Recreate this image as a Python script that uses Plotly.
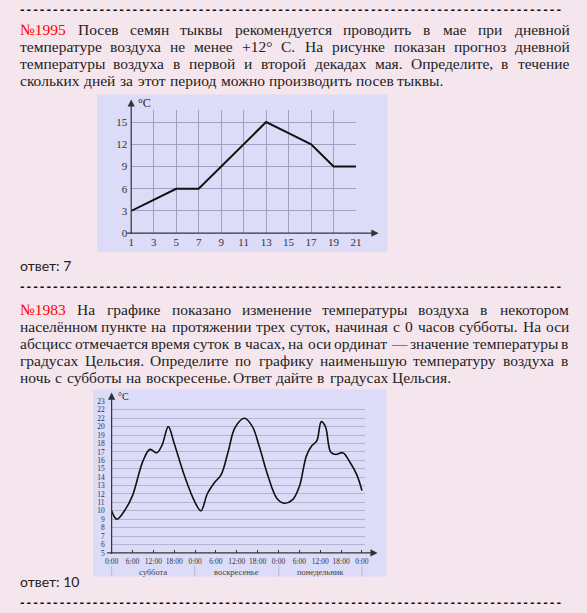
import plotly.graph_objects as go

W, H = 587, 613

# ---------------- data ----------------
days = [1, 3, 5, 7, 9, 11, 13, 15, 17, 19, 21]
temps1 = [3, 4.5, 6, 6, 9, 12, 15, 13.5, 12, 9, 9]
x1_ticks = [1, 3, 5, 7, 9, 11, 13, 15, 17, 19, 21]
y1_ticks = [0, 3, 6, 9, 12, 15]

hours2 = [0, 1.5, 4, 6, 9, 11, 13, 14.5, 16.3, 18, 21, 24, 25.7, 27.5, 29.5, 31.5,
          33.5, 35.5, 38.2, 40.5, 42.5, 45, 47.5, 49.6, 52, 54, 56, 57.5, 59, 60.3,
          61.5, 63, 64.5, 66.5, 68.5, 70.5, 72]
temps2 = [10, 9, 10.2, 11.8, 15.9, 17.3, 16.9, 17.8, 20, 18.0, 14.1, 11, 10, 12.0, 13.3, 14.3,
          17.0, 19.9, 21.0, 20.0, 17.6, 14.1, 11.5, 10.9, 11.3, 12.9, 16.5, 17.7, 18.3, 20.6,
          20.0, 17.0, 16.7, 16.9, 15.8, 14.3, 12.4]
x2_tickvals = [0, 6, 12, 18, 24, 30, 36, 42, 48, 54, 60, 66, 72]
x2_ticktext = ["0:00", "6:00", "12:00", "18:00"] * 3 + ["0:00"]
y2_tickvals = list(range(5, 24))
y2_ticktext = ["5", "6", "7", "8", "9", "10", "11", "12", "13", "14", "15", "16",
               "17", "18", "19", "20", "22", "22", "23"]
day_names = ["суббота", "воскресенье", "понедельник"]

para1 = [
    "№1995 Посев семян тыквы рекомендуется проводить в мае при дневной",
    "температуре воздуха не менее +12° С. На рисунке показан прогноз дневной",
    "температуры воздуха в первой и второй декадах мая. Определите, в течение",
    "скольких дней за этот период можно производить посев тыквы.",
]
para2 = [
    "№1983 На графике показано изменение температуры воздуха в некотором",
    "населённом пункте на протяжении трех суток, начиная с 0 часов субботы. На оси",
    "абсцисс отмечается время суток в часах, на оси ординат — значение температуры в",
    "градусах Цельсия. Определите по графику наименьшую температуру воздуха в",
    "ночь с субботы на воскресенье. Ответ дайте в градусах Цельсия.",
]
answer1 = "ответ: 7"
answer2 = "ответ: 10"

# ---------------- helpers ----------------
def px(x):
    return x / W

def py(y):
    return 1 - y / H

CW = dict(zip("абвгдеёжзийклмнопрстуфхцчшщъыьэюя",
              [444, 507, 472, 410, 504, 444, 444, 691, 395, 535, 535, 484, 499, 632, 535, 500,
               535, 500, 444, 437, 500, 648, 500, 535, 503, 770, 770, 517, 672, 456, 429, 747, 460]))
CW.update(dict(zip("АВГДЕЗИКЛМНОПРСТУФХЦЧШЭЮЯ",
                   [722, 667, 603, 681, 611, 564, 722, 705, 691, 889, 722, 722, 722, 556, 667,
                    611, 707, 790, 722, 722, 667, 1000, 667, 1000, 667])))
CW.update({c: 500 for c in "0123456789"})
CW.update({".": 250, ",": 250, ":": 278, "+": 564, "°": 400, "—": 1000, "№": 1000, "-": 333, " ": 250})

FS = 15.5
SERIF = "Liberation Serif"

def tw(s, size=FS):
    return sum(CW.get(c, 500) for c in s) / 1000 * size

annotations = []
shapes = []

def text_line(line, y, justify=True, L=12, R=573, first_red=False):
    words = line.split(" ")
    widths = [tw(w) for w in words]
    if justify and len(words) > 1:
        gap = (R - L - sum(widths)) / (len(words) - 1)
    else:
        gap = tw(" ") * 1.35
    x = L
    for i, (w, wd) in enumerate(zip(words, widths)):
        color = "#ff0000" if (first_red and i == 0) else "#222222"
        annotations.append(dict(x=px(x), y=py(y), xref="paper", yref="paper", text=w,
                                showarrow=False, xanchor="left", yanchor="middle",
                                borderpad=0,
                                font=dict(family=SERIF, size=FS, color=color)))
        x += wd + gap

def para(lines, y0, dy):
    for i, ln in enumerate(lines):
        text_line(ln, y0 + i * dy, justify=(i < len(lines) - 1), first_red=(i == 0))

def dashes(y):
    annotations.append(dict(x=px(11), y=py(y), xref="paper", yref="paper", text="-" * 82,
                            showarrow=False, xanchor="left", yanchor="middle", borderpad=0,
                            font=dict(family="DejaVu Sans Mono", size=11, color="#111111",
                                      weight="bold")))

def plain(txt, x, y, size, color="#222222", family=SERIF, anchor="left"):
    annotations.append(dict(x=px(x), y=py(y), xref="paper", yref="paper", text=txt,
                            showarrow=False, xanchor=anchor, yanchor="middle", borderpad=0,
                            font=dict(family=family, size=size, color=color)))

def arrow(x0, y0, x1, y1, color="#333333"):
    annotations.append(dict(x=px(x1), y=py(y1), ax=x0 - x1, ay=y0 - y1,
                            xref="paper", yref="paper", axref="pixel", ayref="pixel",
                            text="", showarrow=True, arrowhead=2, arrowsize=1.2,
                            arrowwidth=1.2, arrowcolor=color, standoff=0, startstandoff=0))

# ---------------- page text ----------------
dashes(6)
para(para1, 26, 17.3)
plain(answer1, 12, 266, 14, family="Lato")
dashes(287)
para(para2, 311, 17.3)
plain(answer2, 12, 587, 14, family="Lato")
dashes(608)

# ---------------- backgrounds ----------------
LAV = "#dcdcf8"
shapes.append(dict(type="rect", xref="paper", yref="paper", x0=px(92), x1=px(389),
                   y0=py(252), y1=py(92), fillcolor=LAV, line=dict(width=0), layer="below"))
shapes.append(dict(type="rect", xref="paper", yref="paper", x0=px(88), x1=px(388),
                   y0=py(582), y1=py(392), fillcolor=LAV, line=dict(width=0), layer="below"))

# ---------------- chart 1 ----------------
fig = go.Figure()
fig.add_trace(go.Scatter(x=days, y=temps1, mode="lines",
                         line=dict(color="#111111", width=2), xaxis="x", yaxis="y",
                         hoverinfo="skip"))

c1_left, c1_right, c1_bottom, c1_top = 127, 357, 233, 108
y1_max = 15 + (120 - c1_top) / ((c1_bottom - 120) / 15)

# ---------------- chart 2 ----------------
fig.add_trace(go.Scatter(x=hours2, y=temps2, mode="lines",
                         line=dict(color="#111111", width=1.6, shape="spline", smoothing=1.0),
                         xaxis="x2", yaxis="y2", hoverinfo="skip"))

c2_left, c2_bottom, c2_top = 107, 558, 404
c2_x72 = 363
c2_right = 366
x2_max = 72 * (c2_right - c2_left) / (c2_x72 - c2_left)

# axes arrows
arrow(c1_left, c1_bottom, 380, c1_bottom)
arrow(c1_left, c1_bottom, c1_left, 97)
arrow(c2_left, c2_bottom, 379, c2_bottom)
arrow(c2_left, c2_bottom, c2_left, 395)

plain("°C", 133, 101, 12, color="#222222", family=SERIF)
plain("°C", 113, 399, 10, color="#222222", family=SERIF)

# day labels & separators
sep_x = [107, 192, 278, 363]
for sx in sep_x:
    shapes.append(dict(type="line", xref="paper", yref="paper", x0=px(sx), x1=px(sx),
                       y0=py(571), y1=py(582), line=dict(color="#b8b8d0", width=1)))
for i, name in enumerate(day_names):
    plain(name, (sep_x[i] + sep_x[i + 1]) / 2, 577, 8.5, color="#444444", anchor="center")

GRID1 = "#a0a0c0"
GRID2 = "#b4b4d0"
tickfont1 = dict(family=SERIF, size=11, color="#333333")
tickfont2 = dict(family=SERIF, size=7.5, color="#333333")

fig.update_layout(
    width=W, height=H,
    margin=dict(l=0, r=0, t=0, b=0),
    paper_bgcolor="#f5e6ee",
    plot_bgcolor="rgba(0,0,0,0)",
    showlegend=False,
    xaxis=dict(domain=[px(c1_left), px(c1_right)], range=[1, 21], tickvals=x1_ticks,
               showgrid=True, gridcolor=GRID1, gridwidth=1, zeroline=False, showline=False,
               tickfont=tickfont1, ticks="", tickangle=0, ticklabelstandoff=1, fixedrange=True),
    yaxis=dict(domain=[py(c1_bottom), py(c1_top)], range=[0, y1_max], tickvals=y1_ticks,
               showgrid=True, gridcolor=GRID1, gridwidth=1, zeroline=False, showline=False,
               tickfont=tickfont1, ticks="", ticklabelstandoff=3, fixedrange=True),
    xaxis2=dict(domain=[px(c2_left), px(c2_right)], range=[0, x2_max], tickvals=x2_tickvals,
                ticktext=x2_ticktext, showgrid=False, zeroline=False, showline=False,
                ticks="inside", ticklen=3, tickcolor="#333333", tickangle=0,
                tickfont=tickfont2, anchor="y2", ticklabelstandoff=3, fixedrange=True),
    yaxis2=dict(domain=[py(c2_bottom), py(c2_top)], range=[5, 23], tickvals=y2_tickvals,
                ticktext=y2_ticktext, showgrid=True, gridcolor=GRID2, gridwidth=1,
                zeroline=False, showline=False, ticks="", tickfont=tickfont2,
                ticklabelstandoff=6, anchor="x2", fixedrange=True),
    annotations=annotations,
    shapes=shapes,
)

fig.write_html("out.html", config={"displayModeBar": False},
               post_script="document.body.style.margin='0';document.body.style.padding='0';"
                           "document.body.style.overflow='hidden';")
